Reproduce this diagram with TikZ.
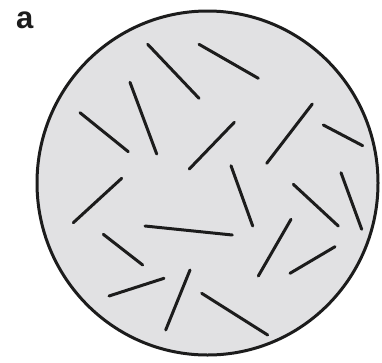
\documentclass[tikz,border=0pt]{standalone}
\usepackage{fontspec}
\setmainfont{Liberation Sans}
\definecolor{diskfill}{HTML}{E1E1E3}
\definecolor{ink}{HTML}{1C1C1C}
\begin{document}
\begin{tikzpicture}[x=1pt,y=-1pt,
  rod/.style={draw=ink,line width=3pt,line cap=round},
  disk/.style={draw=ink,line width=3pt,fill=diskfill}]
\useasboundingbox (0,0) rectangle (382,362);
\node[anchor=base west,inner sep=0pt,text=ink,font=\fontsize{31}{31}\selectfont\bfseries] (lbl) at (16,28) {a};
\draw[disk] (207.5,183) ellipse [x radius=170.5, y radius=172];
\foreach \a/\b in {
 {(147.7,44.3)}/{(199,98.3)},
 {(199,44.3)}/{(258.3,78.3)},
 {(130,82.3)}/{(156.7,154)},
 {(80,112.7)}/{(128.3,151.7)},
 {(189.3,169)}/{(234.3,122.3)},
 {(266.7,163.3)}/{(312.3,104)},
 {(323.3,125)}/{(362.7,145.7)},
 {(231,165.7)}/{(252.7,226)},
 {(341,172.7)}/{(361.7,229.3)},
 {(293.3,184.3)}/{(338.3,226)},
 {(73.3,222.7)}/{(121.7,178.3)},
 {(145,226)}/{(232.3,235)},
 {(103.3,234.3)}/{(142.7,265)},
 {(258.3,276)}/{(291,219.3)},
 {(290,273.3)}/{(335,246.7)},
 {(109,296)}/{(164,278.3)},
 {(165.7,330)}/{(190,270)},
 {(201.7,293.3)}/{(267.7,335)}}
 \draw[rod] \a -- \b;
\end{tikzpicture}
\end{document}
